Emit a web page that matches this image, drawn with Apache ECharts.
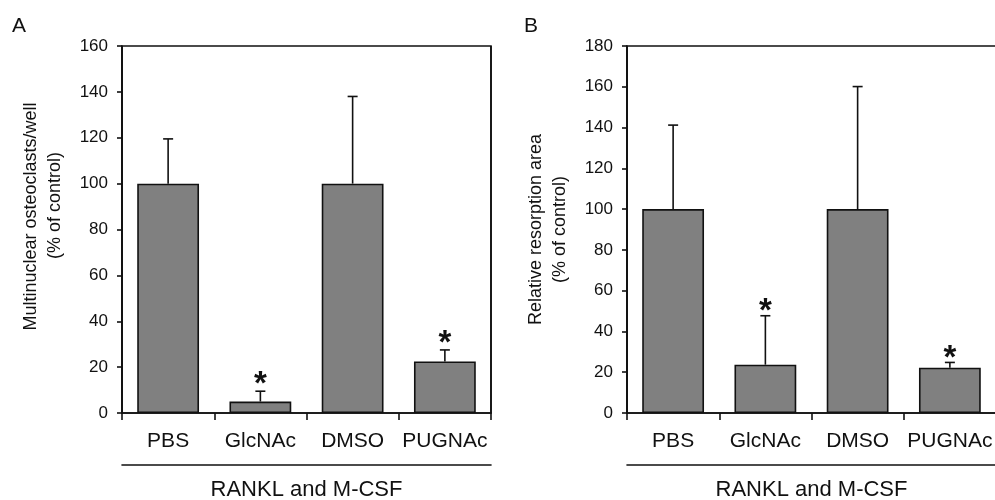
<!DOCTYPE html>
<html>
<head>
<meta charset="utf-8">
<script src="https://cdn.jsdelivr.net/npm/echarts@6/dist/echarts.min.js"></script>
<style>
html,body{margin:0;padding:0;background:#fff;}
#chart{width:995px;height:500px;}
</style>
</head>
<body>
<div id="chart"></div>
<script>
// ---- data ----
const categories = ['PBS', 'GlcNAc', 'DMSO', 'PUGNAc'];
const osteoMean = [100, 5, 100, 22.5];
const osteoSD = [19.5, 4.5, 38, 5];
const osteoSig = [0, 1, 0, 1];
const resorpMean = [100, 23.7, 100, 22.2];
const resorpSD = [41.2, 24, 60.1, 2.6];
const resorpSig = [0, 1, 0, 1];
const groupLabel = 'RANKL and M-CSF';
const yNameA = ['Multinuclear osteoclasts/well', '(% of control)'];
const yNameB = ['Relative resorption area', '(% of control)'];
const yMaxA = 160, yMaxB = 180, yStep = 20;

const FONT = 'Liberation Sans, Arial, Helvetica, sans-serif';
const BLACK = '#111';

function errData(mean, sd, sig) {
  return mean.map((m, i) => [i, m, m + sd[i], sig[i]]);
}

function errRender(starGap) {
  return function (params, api) {
    const i = api.value(0);
    const p0 = api.coord([i, api.value(1)]);
    const p1 = api.coord([i, api.value(2)]);
    const children = [
      { type: 'line', shape: { x1: p0[0], y1: p0[1], x2: p1[0], y2: p1[1] },
        style: { stroke: BLACK, lineWidth: 1.6 } },
      { type: 'line', shape: { x1: p1[0] - 5, y1: p1[1], x2: p1[0] + 5, y2: p1[1] },
        style: { stroke: BLACK, lineWidth: 1.6 } }
    ];
    if (api.value(3)) {
      children.push({ type: 'text', style: {
        text: '*', x: p1[0], y: p1[1] - starGap, align: 'center', verticalAlign: 'middle',
        fontSize: 33, fontWeight: 'bold', fontFamily: FONT, fill: BLACK } });
    }
    return { type: 'group', children };
  };
}

function xAxes(gridIndex) {
  return [
    { type: 'category', gridIndex, data: categories,
      axisLine: { lineStyle: { color: BLACK, width: 1.6 } },
      axisTick: { show: true, length: 7, alignWithLabel: false, lineStyle: { color: BLACK, width: 1.6 } },
      axisLabel: { color: BLACK, fontSize: 21, fontFamily: FONT, margin: 18, interval: 0 },
      splitLine: { show: true, interval: (idx) => idx === 2, lineStyle: { color: BLACK, width: 1.6 } }
    },
    { type: 'category', gridIndex, data: categories, position: 'bottom', offset: 52,
      axisLine: { show: true, lineStyle: { color: BLACK, width: 1.6 } },
      axisTick: { show: false }, axisLabel: { show: false }, splitLine: { show: false },
      name: groupLabel, nameLocation: 'middle', nameGap: 14,
      nameTextStyle: { color: BLACK, fontSize: 22, fontFamily: FONT }
    }
  ];
}

function yAxis(gridIndex, max, nameLines, padA, padB, gap) {
  return { type: 'value', gridIndex, min: 0, max, interval: yStep,
    axisLine: { show: true, lineStyle: { color: BLACK, width: 1.6 } },
    axisTick: { show: true, length: 5, lineStyle: { color: BLACK, width: 1.6 } },
    axisLabel: { color: BLACK, fontSize: 17, fontFamily: FONT, margin: 14 },
    splitLine: { show: false },
    name: '{a|' + nameLines[0] + '}\n{b|' + nameLines[1] + '}',
    nameLocation: 'middle', nameGap: gap,
    nameTextStyle: { color: BLACK, fontFamily: FONT, fontSize: 18, lineHeight: 24,
      rich: {
        a: { fontSize: 18, fontFamily: FONT, color: BLACK, lineHeight: 24, padding: [0, 0, 0, padA] },
        b: { fontSize: 18, fontFamily: FONT, color: BLACK, lineHeight: 24, padding: [0, 0, 0, padB] }
      } }
  };
}

function barSeries(idx, mean) {
  return { type: 'bar', xAxisIndex: idx * 2, yAxisIndex: idx, data: mean, barWidth: '67%',
    itemStyle: { color: '#808080', borderColor: BLACK, borderWidth: 1.6 }, silent: true, z: 2 };
}
function errSeries(idx, mean, sd, sig, gap) {
  return { type: 'custom', xAxisIndex: idx * 2, yAxisIndex: idx, data: errData(mean, sd, sig),
    renderItem: errRender(gap), z: 1, silent: true };
}

const chart = echarts.init(document.getElementById('chart'), null, { renderer: 'canvas' });
chart.setOption({
  animation: false,
  backgroundColor: '#fff',
  textStyle: { fontFamily: FONT },
  graphic: [
    { type: 'text', left: 12, top: 16, style: { text: 'A', fontSize: 21, fontFamily: FONT, fill: BLACK } },
    { type: 'text', left: 524, top: 16, style: { text: 'B', fontSize: 21, fontFamily: FONT, fill: BLACK } }
  ],
  grid: [
    { left: 122, top: 46, width: 369, height: 367, outerBoundsMode: 'none', containLabel: false,
      show: true, borderColor: BLACK, borderWidth: 1.6, backgroundColor: 'transparent' },
    { left: 627, top: 46, width: 369, height: 367, outerBoundsMode: 'none', containLabel: false,
      show: true, borderColor: BLACK, borderWidth: 1.6, backgroundColor: 'transparent' }
  ],
  xAxis: [...xAxes(0), ...xAxes(1)],
  yAxis: [
    yAxis(0, yMaxA, yNameA, 26, 48, 55),
    yAxis(1, yMaxB, yNameB, 0, 0, 55)
  ],
  series: [
    barSeries(0, osteoMean),
    errSeries(0, osteoMean, osteoSD, osteoSig, 6),
    barSeries(1, resorpMean),
    errSeries(1, resorpMean, resorpSD, resorpSig, 4)
  ]
});
</script>
</body>
</html>
